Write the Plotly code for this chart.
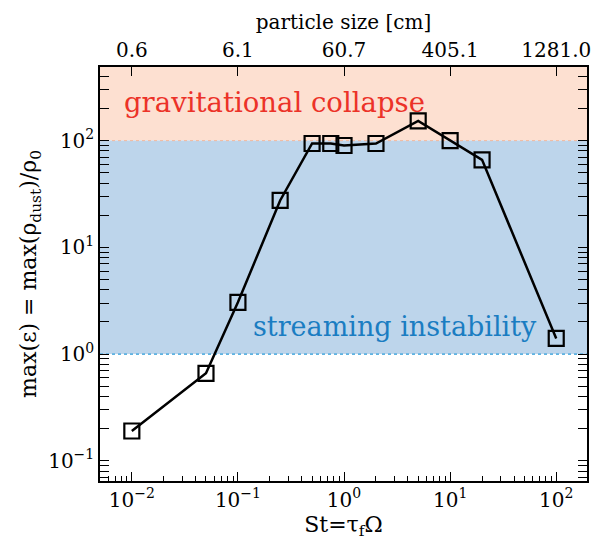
import plotly.graph_objects as go

st = [0.01, 0.05, 0.1, 0.25, 0.5, 0.75, 1.0, 2.0, 5.0, 10.0, 20.0, 100.0]
eps_max = [0.19, 0.66, 3.05, 27.5, 94, 94, 90, 94, 153, 100, 66, 1.4]

x_ticks = [0.01, 0.1, 1, 10, 100]
x_tick_text = ["10<sup>\u22122</sup>", "10<sup>\u22121</sup>", "10<sup>0</sup>", "10<sup>1</sup>", "10<sup>2</sup>"]
size_tick_text = ["0.6", "6.1", "60.7", "405.1", "1281.0"]
y_ticks = [0.1, 1, 10, 100]
y_tick_text = ["10<sup>\u22121</sup>", "10<sup>0</sup>", "10<sup>1</sup>", "10<sup>2</sup>"]

si_band = [1, 100]
gc_band = [100, 10 ** 2.7]

FONT = "DejaVu Serif"

fig = go.Figure()

fig.add_trace(go.Scatter(
    x=st, y=eps_max, mode="lines+markers",
    line=dict(color="black", width=2.5),
    marker=dict(symbol="square-open", size=15, color="black", line=dict(width=2.2)),
    showlegend=False, xaxis="x", yaxis="y",
))
fig.add_trace(go.Scatter(x=[st[0]], y=[eps_max[0]], mode="markers", marker=dict(opacity=0),
                         showlegend=False, hoverinfo="skip", xaxis="x2", yaxis="y"))

fig.add_hrect(y0=gc_band[0], y1=gc_band[1], fillcolor="#fde0d1", line_width=0, layer="below")
fig.add_hrect(y0=si_band[0], y1=si_band[1], fillcolor="#bdd5eb", line_width=0, layer="below")
fig.add_hline(y=si_band[1], line=dict(color="#f4b99c", width=1, dash="dot"), layer="below")
fig.add_hline(y=si_band[0], line=dict(color="#2b9bd9", width=1.2, dash="dot"), layer="below")

fig.add_annotation(text="gravitational collapse", xref="paper", yref="paper",
                   x=0.045, y=0.915, xanchor="left", yanchor="middle", showarrow=False,
                   font=dict(family=FONT, size=27.5, color="#ec3228"))
fig.add_annotation(text="streaming instability", xref="paper", yref="paper",
                   x=0.31, y=0.373, xanchor="left", yanchor="middle", showarrow=False,
                   font=dict(family=FONT, size=27, color="#1a7dc2"))

xrng = [-2.3, 2.29]
common = dict(showline=True, linecolor="black", linewidth=1.5, showgrid=False, zeroline=False,
              ticks="inside", tickcolor="black")

fig.update_layout(
    width=597, height=548,
    margin=dict(l=100, r=6, t=67, b=67),
    plot_bgcolor="white", paper_bgcolor="white",
    font=dict(family=FONT, color="black", size=20),
    xaxis=dict(type="log", range=xrng, tickmode="array", tickvals=x_ticks, ticktext=x_tick_text,
               ticklen=9, tickwidth=1,
               minor=dict(ticks="inside", ticklen=5, tickwidth=1, tickcolor="black", showgrid=False,
                          dtick="D1"),
               title=dict(text="St=\u03c4<sub>f</sub>\u03a9", font=dict(size=22), standoff=4),
               tickfont=dict(size=20), **common),
    xaxis2=dict(type="log", range=xrng, overlaying="x", side="top", anchor="y",
                tickmode="array", tickvals=x_ticks, ticktext=size_tick_text, ticklen=9, tickwidth=1,
                title=dict(text="particle size [cm]", font=dict(size=20), standoff=3),
                tickfont=dict(size=20), **common),
    yaxis=dict(type="log", range=[-1.19, 2.69], tickmode="array", tickvals=y_ticks, ticktext=y_tick_text,
               ticklen=9, tickwidth=1, mirror="allticks",
               minor=dict(ticks="inside", ticklen=5, tickwidth=1, tickcolor="black", showgrid=False,
                          dtick="D1"),
               title=dict(text="max(\u03b5) = max(\u03c1<sub>dust</sub>)/\u03c1<sub>0</sub>",
                          font=dict(size=22), standoff=5),
               tickfont=dict(size=20), **common),
)

fig.write_html("out.html")
